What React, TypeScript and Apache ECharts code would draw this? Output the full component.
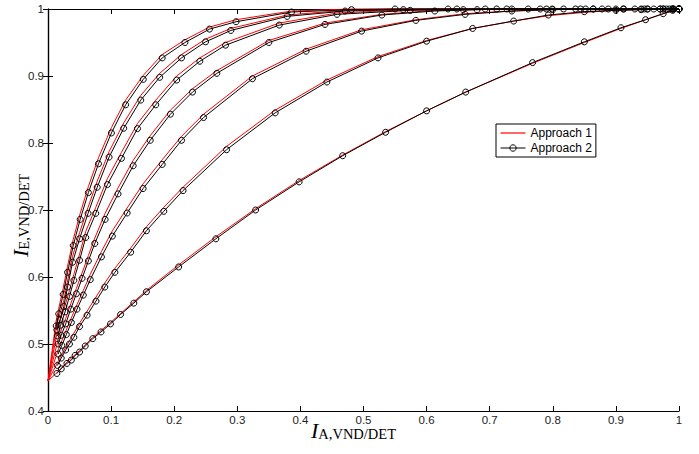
import React, { useEffect, useRef } from "react";
import * as echarts from "echarts";

// Tick labels
const xTickLabels = ["0", "0.1", "0.2", "0.3", "0.4", "0.5", "0.6", "0.7", "0.8", "0.9", "1"];
const yTickLabels = ["0.4", "0.5", "0.6", "0.7", "0.8", "0.9", "1"];

// Approach 2 (black, circle markers) — curves A (top) .. G (bottom), [I_A, I_E]
const approach2A = [[0.013,0.527],[0.017,0.545],[0.024,0.574],[0.031,0.607],[0.040,0.647],[0.051,0.686],[0.064,0.726],[0.080,0.769],[0.1005,0.815],[0.123,0.857],[0.151,0.895],[0.181,0.927],[0.217,0.950],[0.256,0.970],[0.298,0.981],[0.386,0.9955],[0.481,0.999],[0.55,1.0],[0.634,1.0],[0.693,1.0],[0.761,1.0],[0.817,1.0],[0.864,1.0],[0.912,1.0],[0.95,1.0],[0.975,1.0],[0.99,1.0],[1,1]];
const approach2B = [[0.014,0.521],[0.019,0.536],[0.025,0.556],[0.031,0.585],[0.039,0.622],[0.050,0.657],[0.0635,0.695],[0.078,0.734],[0.0968,0.779],[0.120,0.822],[0.147,0.864],[0.177,0.898],[0.2116,0.927],[0.2497,0.951],[0.2898,0.968],[0.379,0.989],[0.4707,0.997],[0.563,0.999],[0.648,1.0],[0.711,1.0],[0.780,1.0],[0.836,1.0],[0.878,1.0],[0.93,1.0],[0.96,1.0],[0.985,1.0],[1,1]];
const approach2C = [[0.015,0.512],[0.020,0.528],[0.027,0.548],[0.034,0.571],[0.041,0.595],[0.050,0.625],[0.0598,0.659],[0.0757,0.695],[0.0942,0.738],[0.1164,0.777],[0.1418,0.8215],[0.1708,0.857],[0.204,0.894],[0.2406,0.922],[0.2814,0.946],[0.3665,0.976],[0.458,0.992],[0.574,0.998],[0.658,0.999],[0.727,1.0],[0.790,1.0],[0.844,1.0],[0.888,1.0],[0.94,1.0],[0.97,1.0],[0.99,1.0],[1,1]];
const approach2D = [[0.016,0.500],[0.021,0.513],[0.028,0.530],[0.036,0.552],[0.045,0.575],[0.054,0.598],[0.064,0.624],[0.0741,0.650],[0.0905,0.686],[0.111,0.724],[0.135,0.766],[0.162,0.804],[0.194,0.843],[0.229,0.876],[0.2676,0.904],[0.350,0.950],[0.439,0.977],[0.529,0.991],[0.613,0.997],[0.68,0.999],[0.735,1.0],[0.799,1.0],[0.852,1.0],[0.90,1.0],[0.945,1.0],[0.975,1.0],[0.992,1.0],[1,1]];
const approach2E = [[0.016,0.485],[0.022,0.498],[0.029,0.514],[0.037,0.532],[0.046,0.552],[0.056,0.573],[0.067,0.596],[0.0847,0.630],[0.102,0.661],[0.1254,0.6955],[0.1507,0.732],[0.181,0.768],[0.2116,0.804],[0.2465,0.838],[0.324,0.896],[0.409,0.937],[0.497,0.967],[0.583,0.983],[0.661,0.992],[0.735,0.997],[0.80,0.999],[0.864,1.0],[0.912,1.0],[0.95,1.0],[0.98,1.0],[1,1]];
const approach2F = [[0.015,0.468],[0.021,0.479],[0.028,0.491],[0.034,0.500],[0.041,0.510],[0.050,0.526],[0.062,0.543],[0.076,0.564],[0.090,0.585],[0.106,0.607],[0.131,0.637],[0.156,0.669],[0.1835,0.698],[0.214,0.729],[0.283,0.790],[0.360,0.845],[0.442,0.891],[0.523,0.927],[0.600,0.952],[0.673,0.971],[0.738,0.982],[0.793,0.991],[0.85,0.996],[0.90,0.998],[0.94,0.999],[0.97,1.0],[0.99,1.0],[1,1]];
const approach2G = [[0.014,0.456],[0.021,0.463],[0.030,0.471],[0.037,0.476],[0.043,0.483],[0.050,0.488],[0.059,0.497],[0.071,0.508],[0.084,0.518],[0.099,0.530],[0.115,0.544],[0.136,0.561],[0.156,0.578],[0.207,0.615],[0.266,0.657],[0.329,0.700],[0.398,0.742],[0.467,0.781],[0.535,0.816],[0.600,0.848],[0.662,0.876],[0.768,0.920],[0.850,0.951],[0.908,0.972],[0.947,0.984],[0.975,0.993],[0.99,0.998],[1,1]];

// Approach 1 (red line)
const approach1A = [[0,0.445],[0.013,0.535],[0.017,0.553],[0.024,0.583],[0.031,0.616],[0.040,0.656],[0.051,0.695],[0.064,0.735],[0.080,0.778],[0.1005,0.823],[0.123,0.864],[0.151,0.901],[0.181,0.932],[0.217,0.954],[0.256,0.973],[0.298,0.984],[0.386,0.997],[0.481,1.0],[0.6,1.0],[1,1]];
const approach1B = [[0,0.445],[0.014,0.529],[0.019,0.545],[0.025,0.565],[0.031,0.594],[0.039,0.631],[0.050,0.666],[0.0635,0.704],[0.078,0.743],[0.0968,0.787],[0.120,0.830],[0.147,0.871],[0.177,0.904],[0.2116,0.932],[0.2497,0.955],[0.2898,0.971],[0.379,0.991],[0.4707,0.998],[0.563,1.0],[1,1]];
const approach1C = [[0,0.445],[0.015,0.520],[0.020,0.537],[0.027,0.557],[0.034,0.580],[0.041,0.604],[0.050,0.634],[0.0598,0.668],[0.0757,0.704],[0.0942,0.747],[0.1164,0.786],[0.1418,0.829],[0.1708,0.864],[0.204,0.900],[0.2406,0.927],[0.2814,0.950],[0.3665,0.979],[0.458,0.994],[0.574,0.999],[0.658,1.0],[1,1]];
const approach1D = [[0,0.445],[0.016,0.507],[0.021,0.521],[0.028,0.538],[0.036,0.560],[0.045,0.583],[0.054,0.606],[0.064,0.632],[0.0741,0.658],[0.0905,0.695],[0.111,0.733],[0.135,0.774],[0.162,0.811],[0.194,0.849],[0.229,0.881],[0.2676,0.908],[0.350,0.953],[0.439,0.979],[0.529,0.992],[0.613,0.998],[0.68,0.999],[0.735,1.0],[1,1]];
const approach1E = [[0,0.445],[0.016,0.491],[0.022,0.505],[0.029,0.521],[0.037,0.539],[0.046,0.559],[0.056,0.580],[0.067,0.604],[0.0847,0.638],[0.102,0.669],[0.1254,0.703],[0.1507,0.739],[0.181,0.775],[0.2116,0.810],[0.2465,0.843],[0.324,0.900],[0.409,0.940],[0.497,0.969],[0.583,0.984],[0.661,0.993],[0.735,0.997],[0.80,0.999],[0.864,1.0],[1,1]];
const approach1F = [[0,0.445],[0.015,0.472],[0.021,0.483],[0.028,0.495],[0.034,0.505],[0.041,0.516],[0.050,0.531],[0.062,0.549],[0.076,0.570],[0.090,0.591],[0.106,0.613],[0.131,0.643],[0.156,0.675],[0.1835,0.704],[0.214,0.734],[0.283,0.795],[0.360,0.849],[0.442,0.894],[0.523,0.929],[0.600,0.953],[0.673,0.971],[0.738,0.982],[0.793,0.990],[0.85,0.995],[0.90,0.998],[0.94,0.999],[0.97,1.0],[1,1]];
const approach1G = [[0,0.445],[0.014,0.457],[0.030,0.473],[0.050,0.490],[0.071,0.510],[0.099,0.532],[0.136,0.563],[0.156,0.580],[0.207,0.618],[0.266,0.660],[0.329,0.702],[0.398,0.744],[0.467,0.782],[0.535,0.817],[0.600,0.848],[0.662,0.876],[0.768,0.919],[0.850,0.950],[0.908,0.971],[0.947,0.984],[0.975,0.993],[1,1]];

const approach1 = [approach1A, approach1B, approach1C, approach1D, approach1E, approach1F, approach1G];
const approach2 = [approach2A, approach2B, approach2C, approach2D, approach2E, approach2F, approach2G];

const SANS = '"Liberation Sans", Arial, sans-serif';
const SERIF = '"Liberation Serif", "Times New Roman", serif';

export default function App() {
  const ref = useRef<HTMLDivElement>(null);

  useEffect(() => {
    document.body.style.margin = "0";
    const chart = echarts.init(ref.current!, null, { renderer: "svg" });

    const axisLine = { show: true, lineStyle: { color: "#000", width: 1.2 } };
    const tick = { show: true, inside: true, length: 5, lineStyle: { color: "#000", width: 1 } };

    const redSeries = approach1.map((d) => ({
      type: "line",
      name: "Approach 1",
      data: d,
      xAxisIndex: 0,
      yAxisIndex: 0,
      symbol: "none",
      smooth: false,
      clip: false,
      lineStyle: { color: "#ff0000", width: 1 },
      itemStyle: { color: "#ff0000" },
      emphasis: { disabled: true },
      z: 2,
    }));
    const blackSeries = approach2.map((d) => ({
      type: "line",
      name: "Approach 2",
      data: d,
      xAxisIndex: 0,
      yAxisIndex: 0,
      symbol: "circle",
      symbolSize: 6,
      showAllSymbol: true,
      smooth: false,
      clip: false,
      lineStyle: { color: "#000", width: 1 },
      itemStyle: { color: "rgba(0,0,0,0)", borderColor: "#000", borderWidth: 1 },
      emphasis: { disabled: true },
      z: 3,
    }));

    const rich = {
      i: { fontFamily: SERIF, fontStyle: "italic", fontSize: 22, lineHeight: 22, verticalAlign: "bottom", fill: "#000", color: "#000" },
      s: { fontFamily: SERIF, fontSize: 14.5, lineHeight: 14.5, verticalAlign: "bottom", fill: "#000", color: "#000" },
    };

    chart.setOption({
      animation: false,
      backgroundColor: "#fff",
      grid: { left: 48, right: 20, top: 9, bottom: 43, containLabel: false },
      xAxis: [
        {
          type: "value",
          min: 0,
          max: 1,
          interval: 0.1,
          position: "bottom",
          axisLine,
          axisTick: tick,
          splitLine: { show: false },
          axisLabel: {
            margin: 3,
            fontFamily: SANS,
            fontSize: 11.5,
            color: "#222",
            formatter: (v: number) => xTickLabels[Math.round(v * 10)],
          },
        },
        {
          type: "value",
          min: 0,
          max: 1,
          interval: 0.1,
          position: "top",
          axisLine,
          axisTick: tick,
          splitLine: { show: false },
          axisLabel: { show: false },
        },
      ],
      yAxis: [
        {
          type: "value",
          min: 0.4,
          max: 1,
          interval: 0.1,
          position: "left",
          axisLine,
          axisTick: tick,
          splitLine: { show: false },
          axisLabel: {
            margin: 4,
            fontFamily: SANS,
            fontSize: 11.5,
            color: "#222",
            formatter: (v: number) => yTickLabels[Math.round(v * 10) - 4],
          },
        },
        {
          type: "value",
          min: 0.4,
          max: 1,
          interval: 0.1,
          position: "right",
          axisLine,
          axisTick: tick,
          splitLine: { show: false },
          axisLabel: { show: false },
        },
      ],
      legend: {
        data: [
          { name: "Approach 1", icon: "path://M0,0H25V1.2H0Z" },
          { name: "Approach 2" },
        ],
        orient: "vertical",
        left: 496,
        top: 124,
        itemWidth: 25,
        itemHeight: 8,
        itemGap: 3,
        padding: [3, 4, 3, 4],
        borderColor: "#000",
        borderWidth: 1,
        backgroundColor: "#fff",
        selectedMode: false,
        lineStyle: { width: 1 },
        itemStyle: { borderWidth: 1 },
        textStyle: { fontFamily: SANS, fontSize: 12, color: "#000" },
      },
      tooltip: { show: false },
      graphic: [
        {
          type: "text",
          x: 311,
          y: 441,
          style: {
            text: "{i|I}{s|A,VND/DET}",
            rich,
            align: "left",
            verticalAlign: "bottom",
          },
        },
        {
          type: "text",
          x: 31,
          y: 257,
          rotation: Math.PI / 2,
          style: {
            text: "{i|I}{s|E,VND/DET}",
            rich,
            align: "left",
            verticalAlign: "bottom",
          },
        },
      ],
      series: [...redSeries, ...blackSeries],
    });

    return () => chart.dispose();
  }, []);

  return <div ref={ref} style={{ width: 699, height: 454, background: "#fff" }} />;
}
